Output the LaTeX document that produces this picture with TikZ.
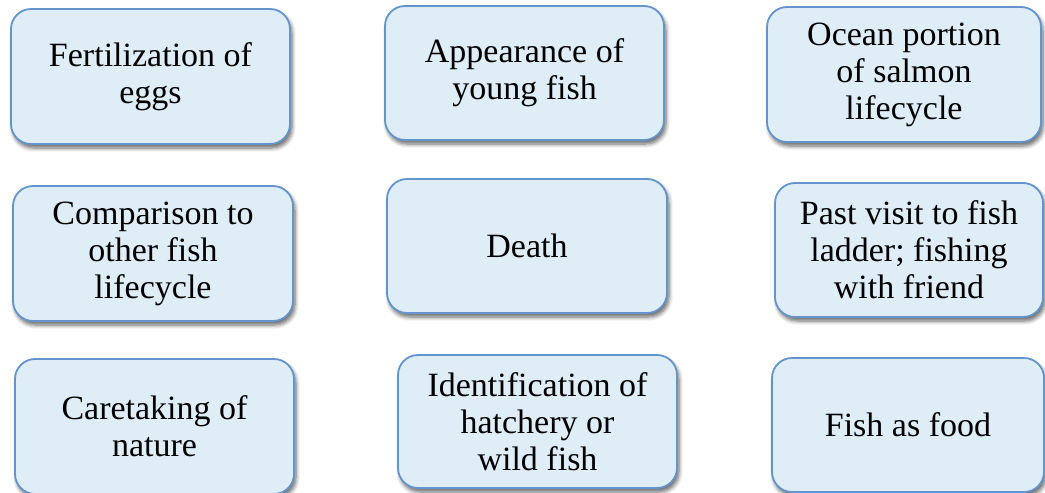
\documentclass[tikz,border=0pt]{standalone}
\usepackage{fontspec}
\setmainfont{Liberation Serif}
\usetikzlibrary{shadows.blur}
\definecolor{boxfill}{HTML}{DFEDF7}
\definecolor{boxline}{HTML}{6394CC}
\begin{document}
\begin{tikzpicture}[x=1pt,y=-1pt,
  card/.style={draw=boxline, line width=1.8pt, fill=boxfill, rounded corners=20pt,
    align=center, inner sep=0pt, font=\fontsize{34}{37}\selectfont,
    blur shadow={shadow xshift=2pt, shadow yshift=-4pt, shadow blur steps=6, shadow opacity=60, shadow blur radius=4pt}}]
\useasboundingbox (0,0) rectangle (1045,493);
\node[card, minimum width=279pt, minimum height=135pt] (a) at (150.5,76.5) {Fertilization of\\eggs};
\node[card, minimum width=279pt, minimum height=134pt] (b) at (524.5,73) {Appearance of\\young fish};
\node[card, minimum width=274pt, minimum height=135pt] (c) at (904,74.5) {Ocean portion\\of salmon\\lifecycle};
\node[card, minimum width=280pt, minimum height=135pt] (d) at (153,253.5) {Comparison to\\other fish\\lifecycle};
\node[card, minimum width=280pt, minimum height=134pt] (e) at (527,246) {Death};
\node[card, minimum width=268pt, minimum height=134pt] (f) at (909,250) {Past visit to fish\\ladder; fishing\\with friend};
\node[card, minimum width=279pt, minimum height=135pt] (g) at (154.5,426.5) {Caretaking of\\nature};
\node[card, minimum width=279pt, minimum height=133pt] (h) at (537.5,421.5) {Identification of\\hatchery or\\wild fish};
\node[card, minimum width=272pt, minimum height=134pt] (i) at (908,425) {Fish as food};
\end{tikzpicture}
\end{document}
